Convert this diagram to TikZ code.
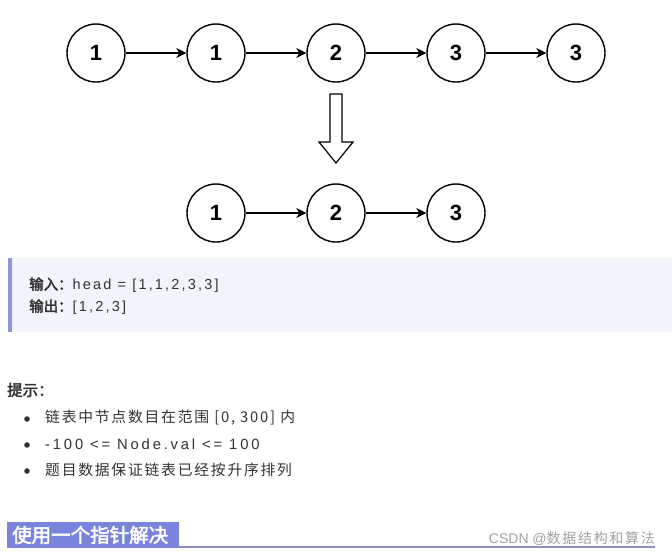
\documentclass[tikz,border=0pt]{standalone}
\usepackage{fontspec}
\usepackage{tikz}
\usetikzlibrary{arrows.meta}
\setmainfont{Liberation Sans}
\newfontfamily\cjk[LetterSpace=12]{Noto Sans CJK SC}
\newfontfamily\cjkbold[FakeBold=2.5]{Noto Sans CJK SC}
\newfontfamily\spaced[LetterSpace=15]{Liberation Sans}
\newfontfamily\wider[LetterSpace=19]{Liberation Sans}
\definecolor{gridline}{HTML}{F2F2F2}
\definecolor{boxbg}{HTML}{F1F5FB}
\definecolor{boxbar}{HTML}{8C95D8}
\definecolor{banner}{HTML}{7B84DC}
\definecolor{bannerline}{HTML}{8A8EC4}
\definecolor{mark}{HTML}{A0A0A0}
\definecolor{body}{HTML}{333333}

\begin{document}
\begin{tikzpicture}[x=1pt, y=-1pt,
    listnode/.style={circle, draw, line width=1.4pt, minimum size=58pt, inner sep=0pt, font=\bfseries\fontsize{22}{22}\selectfont},
    link/.style={-{Stealth[length=10pt, width=10pt, inset=3pt]}, line width=1.3pt}]
            \useasboundingbox (0,0) rectangle (672,557);
            \fill[white] (0,0) rectangle (672,557);
            \draw[gridline, step=16.5pt, shift={(4,-1)}] (-4,1) grid (672,-556);

            % Nodes
            \node[listnode] (a1) at (96, 53) {1};
            \node[listnode] (a2) at (216, 53) {1};
            \node[listnode] (a3) at (336, 53) {2};
            \node[listnode] (a4) at (456, 53) {3};
            \node[listnode] (a5) at (576, 53) {3};

            \node[listnode] (b1) at (216, 213) {1};
            \node[listnode] (b2) at (336, 213) {2};
            \node[listnode] (b3) at (456, 213) {3};

            % Edges
            \draw[link] (a1) -- (a2);
            \draw[link] (a2) -- (a3);
            \draw[link] (a3) -- (a4);
            \draw[link] (a4) -- (a5);
            \draw[link] (b1) -- (b2);
            \draw[link] (b2) -- (b3);

            % Hollow arrow
            \draw[line width=1.2pt, fill=white] (330,94) -- (342,94) -- (342,142) -- (353,142) -- (336,163) -- (319,142) -- (330,142) -- cycle;

            % Example box
            \fill[boxbg] (8,258) rectangle (672,332);
            \fill[boxbar] (8,258) rectangle (12,332);
            \node[anchor=west, inner sep=0pt, text=body, font=\fontsize{14.5}{14.5}\selectfont] (in) at (29,285) {{\cjkbold 输入：}\spaced head = [1,1,2,3,3]};
            \node[anchor=west, inner sep=0pt, text=body, font=\fontsize{14.5}{14.5}\selectfont] (out) at (29,307) {{\cjkbold 输出：}\spaced [1,2,3]};

            % Hints
            \node[anchor=west, inner sep=0pt, text=body, font=\cjkbold\fontsize{15.5}{15.5}\selectfont] (hint) at (7,390) {提示：};
            \foreach \y in {419,445,471}
                \fill[body] (27,\y) circle (2.8pt);
            \node[anchor=west, inner sep=0pt, text=body, font=\fontsize{14.8}{14.8}\selectfont] (h1) at (45,418) {\cjk 链表中节点数目在范围 [0, 300] 内};
            \node[anchor=west, inner sep=0pt, text=body, font=\fontsize{14.8}{14.8}\selectfont] (h2) at (45,444) {\wider -100 <= Node.val <= 100};
            \node[anchor=west, inner sep=0pt, text=body, font=\fontsize{14.8}{14.8}\selectfont] (h3) at (45,470) {\cjk 题目数据保证链表已经按升序排列};

            % Banner
            \fill[banner] (7,522) rectangle (179,548);
            \node[anchor=west, inner sep=0pt, text=white, font=\cjkbold\fontsize{19.5}{19.5}\selectfont] (title) at (12,535) {使用一个指针解决};
            \draw[bannerline, line width=1.6pt] (179,547) -- (655,547);
            \node[anchor=east, inner sep=0pt, text=mark, font=\fontsize{14}{14}\selectfont] (csdn) at (655,539) {CSDN @{\cjk 数据结构和算法}};
        \end{tikzpicture}
\end{document}
